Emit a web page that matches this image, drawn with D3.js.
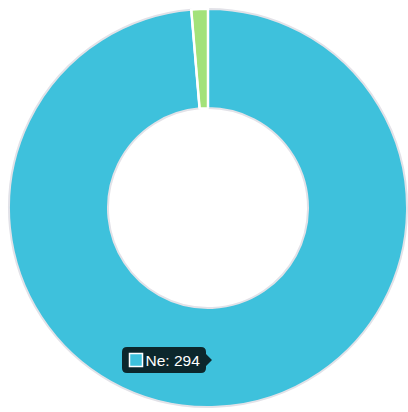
<!DOCTYPE html>
<html><head><meta charset="utf-8">
<script src="https://cdn.jsdelivr.net/npm/d3@7"></script>
<style>html,body{margin:0;padding:0;background:#fff;}svg{display:block;}</style>
</head><body>
<script>
const categories = ["Ne", "Ano"];
const values = [294, 4];
const colors = ["#3ec1dc", "#a3e27a"];

const W = 408, H = 412;
const cx = 208, cy = 208, rOuter = 199, rInner = 100;
const svg = d3.select("body").append("svg").attr("width", W).attr("height", H);
const g = svg.append("g").attr("transform", `translate(${cx},${cy})`);

const pie = d3.pie().sort(null).value(d => d.v);
const arcs = pie(categories.map((c, i) => ({c, v: values[i], col: colors[i]})));
const arc = d3.arc().innerRadius(rInner).outerRadius(rOuter);

g.selectAll("path").data(arcs).enter().append("path")
  .attr("d", arc)
  .attr("fill", d => d.data.col)
  .attr("stroke", (d, i) => i === 0 ? "#e2e2e8" : "#fff")
  .attr("stroke-width", 2)
  .attr("stroke-linejoin", "round");
// white separators between slices
g.selectAll("line.sep").data(arcs).enter().append("line")
  .attr("x1", d => rInner * Math.sin(d.startAngle))
  .attr("y1", d => -rInner * Math.cos(d.startAngle))
  .attr("x2", d => (rOuter + 1) * Math.sin(d.startAngle))
  .attr("y2", d => -(rOuter + 1) * Math.cos(d.startAngle))
  .attr("stroke", "#fff").attr("stroke-width", 2.5);

// tooltip
const tip = svg.append("g").attr("transform", "translate(122,347)");
const tw = 84, th = 26;
tip.append("path")
  .attr("d", `M5,0 H${tw-5} Q${tw},0 ${tw},5 V${th/2-6} L${tw+6},${th/2} L${tw},${th/2+6} V${th-5} Q${tw},${th} ${tw-5},${th} H5 Q0,${th} 0,${th-5} V5 Q0,0 5,0 Z`)
  .attr("fill", "rgba(0,0,0,0.8)");
tip.append("rect").attr("x", 7.5).attr("y", 6.5).attr("width", 13).attr("height", 13)
  .attr("fill", colors[0]).attr("stroke", "#fff").attr("stroke-width", 1.5);
tip.append("text").attr("x", 23.5).attr("y", 18.5)
  .attr("fill", "#fff").attr("font-family", "Liberation Sans, Arial, sans-serif")
  .attr("font-size", 15.5)
  .text(`${categories[0]}: ${values[0]}`);
</script>
</body></html>
